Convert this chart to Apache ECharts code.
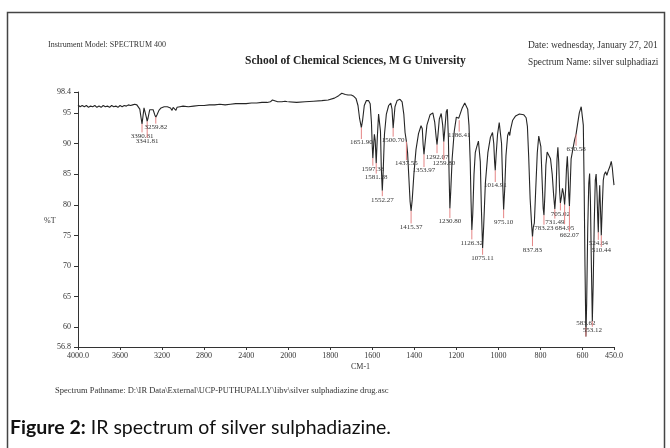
<!DOCTYPE html>
<html>
<head>
<meta charset="utf-8">
<script src="https://cdn.jsdelivr.net/npm/echarts@6/dist/echarts.min.js"></script>
<style>
html,body{margin:0;padding:0;background:#fff;}
#chart{width:670px;height:448px;}
</style>
</head>
<body>
<div id="chart"></div>
<script>
// ---- data (wavenumber cm-1, %T) ----
const specHighWavenumber = [4000,3980,3960,3940,3920,3900,3880,3860,3840,3820,3800,3780,3760,3740,3720,3700,3680,3660,3640,3620,3600,3580,3560,3540,3520,3500,3480,3460,3440,3425,3412,3400,3390.81,3382,3372,3362,3350,3341.81,3333,3318,3300,3285,3270,3259.82,3248,3230,3210,3180,3150,3120,3105,3095,3080,3068,3058,3030,3000,2950,2900,2850,2800,2750,2700,2650,2600,2550,2500,2450,2400,2350,2300,2250,2200,2170,2150,2135,2100,2060,2030,2018,2005,2000];
const specHighT = [96.3,96.0,96.2,96.0,96.2,95.9,96.1,96.0,96.2,95.9,96.1,95.9,96.2,96.0,96.1,95.9,96.2,96.0,96.1,95.9,96.2,96.0,96.2,96.1,96.3,96.2,96.3,96.4,96.3,96.2,95.6,94.2,93.2,94.4,95.8,95.6,94.3,93.6,94.2,95.5,95.8,95.5,94.7,94.3,94.7,95.4,95.8,96.0,96.0,95.8,95.4,95.9,95.9,95.4,95.9,96.0,96.1,96.0,96.1,96.2,96.2,96.3,96.3,96.4,96.3,96.4,96.5,96.5,96.5,96.6,96.6,96.7,96.7,96.8,97.1,96.8,96.8,96.8,96.9,97.1,96.8,96.8];

const specLowWavenumber = [2000,1960,1920,1880,1840,1810,1780,1760,1745,1737,1728,1715,1700,1688,1677,1668,1660,1651.90,1646,1638,1628,1618,1610,1604,1600,1597.33,1593,1590,1586,1581.28,1576,1570,1566,1561,1557,1552.27,1548,1542,1533,1522,1512,1506,1503,1500.70,1498,1492,1482,1468,1458,1450,1444,1437.55,1432,1426,1420,1415.37,1410,1402,1392,1380,1368,1362,1358,1353.97,1349,1340,1325,1312,1303,1296,1292.07,1288,1281,1272,1265,1259.80,1255,1248,1243,1238,1234,1230.80,1227,1220,1210,1200,1193,1189,1186.41,1182,1172,1160,1152,1146,1140,1134,1130,1126.32,1122,1116,1110,1105,1100,1095,1091,1086,1081,1075.11,1070,1062,1050,1038,1028,1022,1018,1014.91,1011,1004,996,990,985,980,975.10,970,964,956,950,946,942,932,918,900,880,868,862,856,849,842,837.83,834,829,823,815,808,803,798,792,787,783.23,779,774,768,760,752,744,737,731.49,726,721,717,713,709,705.02,700,695,690,684.95,680,676,672,668,665,662.07,659,654,646,638,630.58,624,615,606,600,596,592,588,583.62,580,575,570,566,562,558,553.12,549,544,539,535,531,527,524.64,522,518,514,510.44,506,501,496,490,484,478,470,463,458,454,450];
const specLowT = [96.8,96.7,96.8,96.9,97.0,97.1,97.4,97.8,98.2,98.3,98.0,97.9,97.9,97.7,97.3,96.2,94.0,92.6,93.8,96.2,97.0,97.0,96.5,93.5,89.5,87.6,90.0,91.5,90.5,86.8,91.0,94.8,95.1,92.0,86.0,82.3,85.5,91.5,94.8,96.2,96.6,95.6,93.8,92.5,93.6,96.0,97.0,97.2,96.8,94.8,91.8,90.3,88.5,84.5,80.5,79.0,80.8,85.0,89.0,91.6,92.9,92.4,89.8,88.2,90.0,93.0,94.7,95.0,93.5,91.0,89.8,91.2,94.0,94.9,93.0,90.3,92.2,95.2,95.6,91.0,84.0,79.4,82.0,87.5,92.0,94.3,94.6,94.1,93.8,94.3,95.8,96.6,96.7,95.6,93.0,87.0,80.5,75.9,78.5,85.0,88.5,89.2,89.0,90.4,90.6,87.0,79.5,72.9,76.5,83.5,88.5,91.0,91.8,90.0,87.0,85.6,88.0,91.5,93.4,93.2,90.0,84.0,79.2,82.5,88.0,91.3,91.9,91.3,92.3,93.8,94.5,94.8,94.7,94.2,92.8,88.0,81.0,76.8,74.8,76.3,77.0,82.0,88.5,91.2,91.4,89.5,84.0,79.5,78.3,81.5,86.5,88.6,88.5,87.5,85.0,81.5,79.3,82.0,87.5,89.4,87.0,82.5,80.3,81.3,82.7,81.8,80.0,82.5,86.0,87.9,85.0,81.5,79.8,82.5,87.5,89.0,90.5,91.5,93.0,95.0,96.0,96.1,93.0,83.0,70.0,58.5,64.0,76.0,83.5,85.1,80.5,71.0,61.0,67.0,77.0,84.0,85.0,82.0,77.5,75.5,79.5,83.2,79.0,75.0,79.5,84.0,85.0,85.4,84.8,85.5,86.2,87.1,86.0,84.5,83.2];

const peakWavenumber = [3390.81,3341.81,3259.82,1651.90,1597.33,1581.28,1552.27,1500.70,1437.55,1415.37,1353.97,1292.07,1259.80,1230.80,1186.41,1126.32,1075.11,1014.91,975.10,837.83,783.23,731.49,705.02,684.95,662.07,630.58,583.62,553.12,524.64,510.44];
const peakT = [93.2,93.6,94.3,92.6,87.6,86.8,82.3,92.5,90.3,79.0,88.2,89.8,90.3,79.4,93.8,75.9,72.9,85.6,79.2,74.8,78.3,79.3,80.3,80.0,79.8,91.5,58.5,61.0,75.5,75.0];

const yTicks = [56.8,60,65,70,75,80,85,90,95,98.4];
const xTicksHigh = [4000,3600,3200,2800,2400,2000];
const xTicksLow = [1800,1600,1400,1200,1000,800,600,450];

// ---- layout (label drop below each peak minimum, px) ----
const peakLabelDrop = [12,20,10,15,11,14,9,12,22,16,16,12,22,13,15,13,10,15,12,13,13,13,11,23,29,15,-13,9,11,15];

const zip = (a,b) => a.map((v,i)=>[v,b[i]]);
const highData = zip(specHighWavenumber, specHighT);
const lowData = zip(specLowWavenumber, specLowT);
const peaksHigh = [], peaksLow = [];
peakWavenumber.forEach((w,i)=>{
  const item = [w, peakT[i], peakLabelDrop[i]];
  (w >= 2000 ? peaksHigh : peaksLow).push(item);
});

const SERIF = '"Liberation Serif", "DejaVu Serif", serif';
const axisColor = '#333';
const labelStyle = {fontFamily: SERIF, fontSize: 8, color: '#333'};

// grid geometry
const plotLeft = 78, plotRight = 614, plotTop = 92, plotBottom = 347;
const unit = (plotRight - plotLeft) / 12.75;
const w1 = unit * 5;

function renderPeak(params, api) {
  const w = api.value(0), t = api.value(1), drop = api.value(2);
  const p = api.coord([w, t]);
  const x = p[0], y = p[1];
  const sgn = drop >= 0 ? 1 : -1;
  const ly = y + drop;
  return {
    type: 'group',
    children: [
      {type: 'line', shape: {x1: x, y1: y, x2: x, y2: ly - sgn * 3.5},
       style: {stroke: '#e58585', lineWidth: 1}},
      {type: 'text', x: x, y: ly,
       style: {text: w.toFixed(2), align: 'center', verticalAlign: 'middle',
               fontFamily: SERIF, fontSize: 7, fill: '#333'}}
    ]
  };
}

const chart = echarts.init(document.getElementById('chart'), null, {renderer: 'canvas'});
chart.setOption({
  animation: false,
  backgroundColor: '#fff',
  grid: [
    {left: plotLeft, top: plotTop, width: w1, height: plotBottom - plotTop},
    {left: plotLeft + w1, top: plotTop, width: (plotRight - plotLeft) - w1, height: plotBottom - plotTop}
  ],
  xAxis: [
    {gridIndex: 0, type: 'value', min: 2000, max: 4000, inverse: true,
     axisLine: {show: true, lineStyle: {color: axisColor, width: 1}},
     axisTick: {show: true, length: 3, customValues: xTicksHigh, lineStyle: {color: axisColor}},
     axisLabel: {show: true, customValues: xTicksHigh, margin: 5, hideOverlap: false,
       formatter: v => v === 4000 ? '4000.0' : String(v), ...labelStyle},
     splitLine: {show: false}},
    {gridIndex: 1, type: 'value', min: 450, max: 2000, inverse: true,
     axisLine: {show: true, lineStyle: {color: axisColor, width: 1}},
     axisTick: {show: true, length: 3, customValues: xTicksLow, lineStyle: {color: axisColor}},
     axisLabel: {show: true, customValues: xTicksLow, margin: 5, hideOverlap: false,
       formatter: v => v === 450 ? '450.0' : String(v), ...labelStyle},
     splitLine: {show: false}}
  ],
  yAxis: [
    {gridIndex: 0, type: 'value', min: 56.8, max: 98.4,
     axisLine: {show: true, lineStyle: {color: axisColor, width: 1}},
     axisTick: {show: true, length: 4, customValues: yTicks, lineStyle: {color: axisColor}},
     axisLabel: {show: true, customValues: yTicks, margin: 7, hideOverlap: false,
       formatter: v => (v === 56.8 || v === 98.4) ? v.toFixed(1) : String(v), ...labelStyle},
     splitLine: {show: false}},
    {gridIndex: 1, type: 'value', min: 56.8, max: 98.4, show: false, splitLine: {show: false}}
  ],
  series: [
    {type: 'line', xAxisIndex: 0, yAxisIndex: 0, data: highData, showSymbol: false,
     lineStyle: {color: '#262626', width: 1.1}, z: 3},
    {type: 'line', xAxisIndex: 1, yAxisIndex: 1, data: lowData, showSymbol: false,
     lineStyle: {color: '#262626', width: 1.1}, z: 3},
    {type: 'custom', coordinateSystem: 'cartesian2d', xAxisIndex: 0, yAxisIndex: 0,
     data: peaksHigh, renderItem: renderPeak, clip: false, z: 4},
    {type: 'custom', coordinateSystem: 'cartesian2d', xAxisIndex: 1, yAxisIndex: 1,
     data: peaksLow, renderItem: renderPeak, clip: false, z: 4}
  ],
  graphic: [
    {type: 'rect', shape: {x: 7.5, y: 12.5, width: 657, height: 460},
     style: {fill: null, stroke: '#444', lineWidth: 1.5}, silent: true},
    {type: 'text', left: 48, top: 41,
     style: {text: 'Instrument Model: SPECTRUM 400', fontFamily: SERIF, fontSize: 8, fill: '#333'}},
    {type: 'text', left: 245, top: 55,
     style: {text: 'School of Chemical Sciences, M G University', fontFamily: SERIF, fontSize: 11.5, fontWeight: 'bold', fill: '#222'}},
    {type: 'text', left: 528, top: 40,
     style: {text: 'Date: wednesday, January 27, 201', fontFamily: SERIF, fontSize: 9.5, fill: '#333'}},
    {type: 'text', left: 528, top: 58,
     style: {text: 'Spectrum Name: silver sulphadiazi', fontFamily: SERIF, fontSize: 9.3, fill: '#333'}},
    {type: 'text', left: 44, top: 217,
     style: {text: '%T', fontFamily: SERIF, fontSize: 8, fill: '#333'}},
    {type: 'text', left: 351, top: 363,
     style: {text: 'CM-1', fontFamily: SERIF, fontSize: 8, fill: '#333'}},
    {type: 'text', left: 55, top: 386,
     style: {text: 'Spectrum Pathname: D:\\IR Data\\External\\UCP-PUTHUPALLY\\libv\\silver sulphadiazine drug.asc', fontFamily: SERIF, fontSize: 8.5, fill: '#333'}},
    {type: 'text', left: 10, top: 418,
     style: {rich: {b: {fontFamily: 'Lato', fontSize: 19.5, fontWeight: 'bold', fill: '#111'},
                    n: {fontFamily: 'Lato', fontSize: 19.5, fill: '#111'}},
             text: '{b|Figure 2:}{n| IR spectrum of silver sulphadiazine.}'}}
  ]
});
</script>
</body>
</html>
